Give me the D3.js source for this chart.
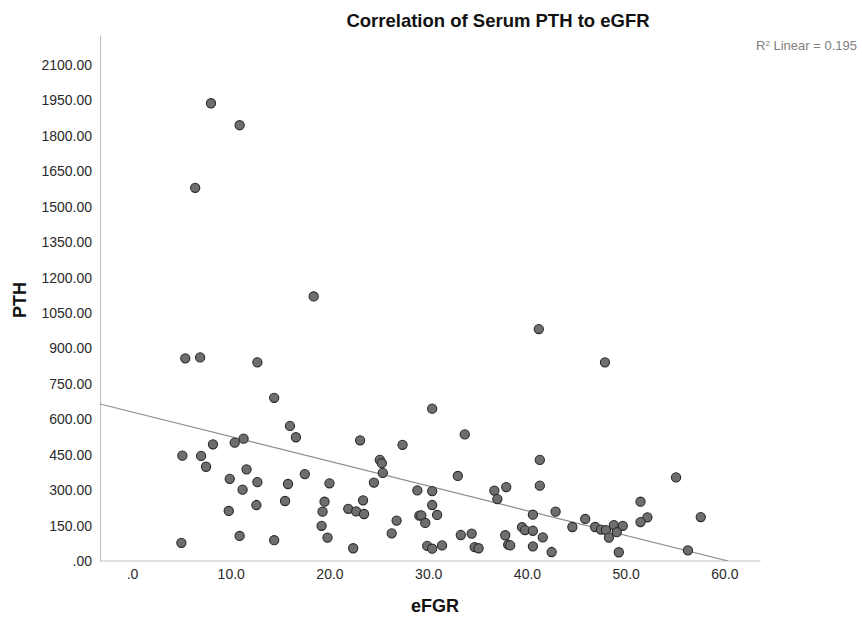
<!DOCTYPE html>
<html>
<head>
<meta charset="utf-8">
<script src="https://cdn.jsdelivr.net/npm/d3@7"></script>
<style>
  body { margin: 0; background: #fff; }
  text { font-family: "Liberation Sans", Arial, sans-serif; }
</style>
</head>
<body>
<svg id="chart" width="862" height="619"></svg>
<script>
// values
var egfr = [8.0, 10.9, 6.4, 18.4, 5.4, 6.9, 12.7, 14.4, 16.0, 16.6,
  8.2, 10.4, 11.3, 5.1, 7.0, 7.5, 11.6, 9.9, 12.7, 11.2,
  12.6, 9.8, 10.9, 5.0, 14.4, 23.1, 27.4, 25.1, 25.3, 25.4,
  24.5, 17.5, 15.8, 20.0, 15.5, 19.5, 19.3, 23.4, 21.9, 22.7,
  23.5, 28.9, 26.8, 29.1, 19.2, 19.8, 26.3, 22.4, 41.2, 30.4,
  33.7, 41.3, 33.0, 41.3, 30.4, 36.7, 37.9, 37.0, 30.4, 29.3,
  30.9, 29.7, 40.6, 42.9, 33.3, 34.4, 37.8, 39.5, 39.8, 40.6,
  41.6, 29.9, 30.4, 31.4, 34.7, 35.1, 38.1, 38.3, 40.6, 42.5,
  44.6, 47.9, 55.1, 57.6, 51.5, 52.2, 51.5, 45.9, 46.9, 47.5,
  48.0, 48.8, 49.7, 49.1, 48.3, 49.3, 56.3];
var pth = [1938, 1845, 1580, 1120, 858, 862, 841, 691, 572, 524,
  494, 501, 518, 446, 445, 399, 388, 348, 334, 302,
  237, 212, 106, 77, 88, 511, 492, 428, 414, 373,
  332, 368, 326, 329, 254, 251, 209, 257, 221, 210,
  199, 299, 171, 192, 149, 99, 117, 54, 982, 645,
  536, 428, 360, 319, 296, 298, 313, 262, 237, 193,
  195, 161, 196, 209, 110, 116, 109, 143, 131, 128,
  100, 64, 52, 66, 59, 54, 69, 66, 62, 38,
  144, 841, 354, 186, 251, 185, 165, 178, 144, 133,
  131, 152, 149, 122, 99, 37, 45];

var xTicks = [0, 10, 20, 30, 40, 50, 60];
var yTicks = [0, 150, 300, 450, 600, 750, 900, 1050, 1200, 1350, 1500, 1650, 1800, 1950, 2100];

// linear fit shown in the chart
var fitIntercept = 631;
var fitSlope = -10.45;
var rSquared = 0.195;

var svg = d3.select("#chart");

var x = d3.scaleLinear().domain([-3.24, 63.6]).range([100, 760]);
var y = d3.scaleLinear().domain([0, 2227]).range([561, 35]);

// axes
var yAxis = d3.axisLeft(y)
  .tickValues(yTicks)
  .tickSize(0)
  .tickSizeOuter(0)
  .tickPadding(8)
  .tickFormat(function(d){ return d === 0 ? ".00" : d3.format(".2f")(d); });

var xAxis = d3.axisBottom(x)
  .tickValues(xTicks)
  .tickSize(0)
  .tickSizeOuter(0)
  .tickPadding(9)
  .tickFormat(function(d){ return d === 0 ? ".0" : d3.format(".1f")(d); });

var gy = svg.append("g").attr("transform", "translate(100,0)").call(yAxis);
var gx = svg.append("g").attr("transform", "translate(0,560.5)").call(xAxis);

[gx, gy].forEach(function(g){
  g.select(".domain").attr("stroke", "#c4c4c4").attr("stroke-width", 1.2);
  g.selectAll("text")
    .attr("fill", "#2a2a2a")
    .style("font-size", "14px")
    .style("font-family", "'Liberation Sans', Arial, sans-serif");
});

// regression line, clipped to the plot area
svg.append("clipPath").attr("id", "plotclip")
  .append("rect")
  .attr("x", 100).attr("y", 35)
  .attr("width", 660).attr("height", 526);

var x0 = x.domain()[0];
var x1 = -fitIntercept / fitSlope;
svg.append("line")
  .attr("clip-path", "url(#plotclip)")
  .attr("x1", x(x0)).attr("y1", y(fitIntercept + fitSlope * x0))
  .attr("x2", x(x1)).attr("y2", y(fitIntercept + fitSlope * x1))
  .attr("stroke", "#8c8c8c")
  .attr("stroke-width", 1.2);

// points
svg.append("g").selectAll("circle")
  .data(egfr)
  .enter().append("circle")
  .attr("cx", function(d){ return x(d); })
  .attr("cy", function(d, i){ return y(pth[i]); })
  .attr("r", 4.6)
  .attr("fill", "#6e6e6e")
  .attr("stroke", "#2a2a2a")
  .attr("stroke-width", 1.1);

// titles
svg.append("text")
  .attr("x", 498).attr("y", 27)
  .attr("text-anchor", "middle")
  .style("font-size", "18.5px")
  .style("font-weight", "bold")
  .attr("fill", "#111")
  .text("Correlation of Serum PTH to eGFR");

svg.append("text")
  .attr("x", 435).attr("y", 612)
  .attr("text-anchor", "middle")
  .style("font-size", "18px")
  .style("font-weight", "bold")
  .attr("fill", "#111")
  .text("eFGR");

svg.append("text")
  .attr("transform", "translate(26,300) rotate(-90)")
  .attr("text-anchor", "middle")
  .style("font-size", "18px")
  .style("font-weight", "bold")
  .attr("fill", "#111")
  .text("PTH");

var r2 = svg.append("text")
  .attr("x", 857).attr("y", 50)
  .attr("text-anchor", "end")
  .style("font-size", "13px")
  .attr("fill", "#808080");
r2.append("tspan").text("R");
r2.append("tspan").attr("dy", -4).style("font-size", "8px").text("2");
r2.append("tspan").attr("dy", 4).text(" Linear = " + rSquared);
</script>
</body>
</html>
